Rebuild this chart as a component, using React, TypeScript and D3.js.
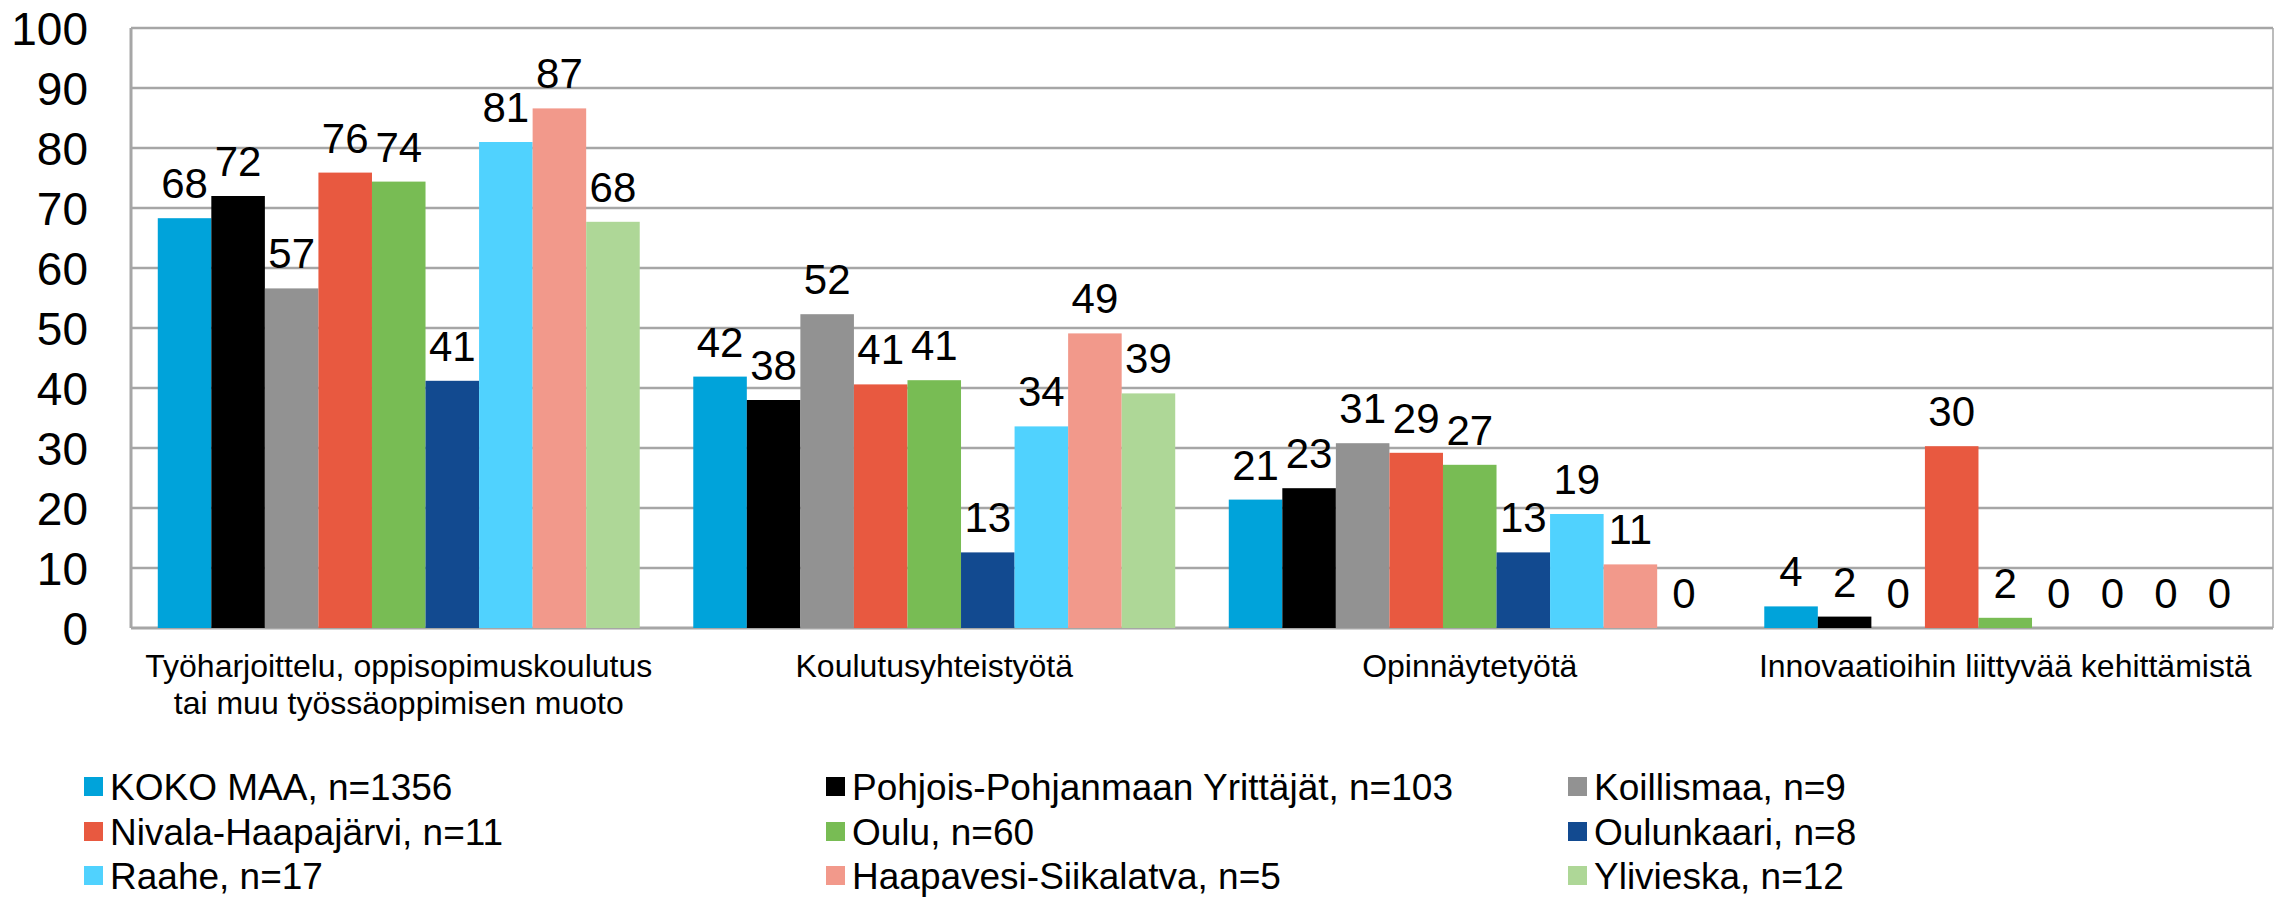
import React from 'react';
import * as d3 from 'd3';

// Kategoriat (x-akseli), rivitetty kuten alkuperäisessä
const categories = [
  'Työharjoittelu, oppisopimuskoulutus tai muu työssäoppimisen muoto',
  'Koulutusyhteistyötä',
  'Opinnäytetyötä',
  'Innovaatioihin liittyvää kehittämistä',
];
const categoryLines = [
  ['Työharjoittelu, oppisopimuskoulutus', 'tai muu työssäoppimisen muoto'],
  ['Koulutusyhteistyötä'],
  ['Opinnäytetyötä'],
  ['Innovaatioihin liittyvää kehittämistä'],
];

// Sarjat
const seriesNames = [
  'KOKO MAA, n=1356',
  'Pohjois-Pohjanmaan Yrittäjät, n=103',
  'Koillismaa, n=9',
  'Nivala-Haapajärvi, n=11',
  'Oulu, n=60',
  'Oulunkaari, n=8',
  'Raahe, n=17',
  'Haapavesi-Siikalatva, n=5',
  'Ylivieska, n=12',
];
const seriesColors = [
  '#00a3da', '#000000', '#929292', '#e85940', '#78bc54',
  '#124a90', '#50d2fe', '#f2998b', '#aed797',
];

// Arvot sarjoittain (kategorioiden järjestyksessä)
const kokoMaa = [68.3, 41.9, 21.4, 3.6];
const pohjoisPohjanmaa = [72.0, 38.0, 23.3, 1.9];
const koillismaa = [56.6, 52.3, 30.8, 0];
const nivalaHaapajarvi = [75.9, 40.6, 29.2, 30.3];
const oulu = [74.4, 41.3, 27.2, 1.7];
const oulunkaari = [41.2, 12.6, 12.6, 0];
const raahe = [81.0, 33.6, 19.0, 0];
const haapavesi = [86.6, 49.1, 10.6, 0];
const ylivieska = [67.7, 39.1, 0, 0];

const seriesValues = [
  kokoMaa, pohjoisPohjanmaa, koillismaa, nivalaHaapajarvi, oulu,
  oulunkaari, raahe, haapavesi, ylivieska,
];

const yTicks = [0, 10, 20, 30, 40, 50, 60, 70, 80, 90, 100];

const W = 2280;
const H = 898;
const plot = { left: 131, right: 2273, top: 28, bottom: 628 };
const font = '"Liberation Sans", Arial, sans-serif';
const gridColor = '#a6a6a6';

const App = () => {
  const x0 = d3.scaleBand<string>()
    .domain(categories)
    .range([plot.left, plot.right])
    .padding(0);

  const x1 = d3.scaleBand<string>()
    .domain(seriesNames)
    .range([0, x0.bandwidth()])
    .paddingInner(0)
    .paddingOuter(0.5);

  const y = d3.scaleLinear().domain([0, 100]).range([plot.bottom, plot.top]);

  const legendCols = [84, 826, 1568];
  const legendRows = [787, 832, 876];

  return (
    <svg width={W} height={H} style={{ position: 'absolute', left: 0, top: 0, background: '#fff' }}
      fontFamily={font}>
      <rect x={0} y={0} width={W} height={H} fill="#fff" />

      {/* Ruudukko */}
      {yTicks.map(t => (
        <line key={'g' + t} x1={plot.left} x2={plot.right} y1={y(t)} y2={y(t)}
          stroke={gridColor} strokeWidth={t === 0 ? 3 : 2.5} />
      ))}
      <line x1={plot.left} x2={plot.left} y1={plot.top} y2={plot.bottom}
        stroke={gridColor} strokeWidth={3} />
      <line x1={plot.right} x2={plot.right} y1={plot.top} y2={plot.bottom}
        stroke={gridColor} strokeWidth={1.5} />

      {/* Y-akselin tekstit */}
      {yTicks.map(t => (
        <text key={'t' + t} x={88} y={y(t)} dy="0.36em" textAnchor="end"
          fontSize={46} fill="#000">{t}</text>
      ))}

      {/* Pylväät */}
      {categories.map((c, ci) => (
        <g key={c} transform={`translate(${x0(c)},0)`}>
          {seriesNames.map((s, si) => {
            const v = seriesValues[si][ci];
            return (
              <rect key={s} x={x1(s)} y={y(v)} width={x1.bandwidth()}
                height={plot.bottom - y(v)} fill={seriesColors[si]} />
            );
          })}
        </g>
      ))}

      {/* Arvojen tekstit */}
      {categories.map((c, ci) => (
        <g key={'l' + c} transform={`translate(${x0(c)},0)`}>
          {seriesNames.map((s, si) => {
            const v = seriesValues[si][ci];
            return (
              <text key={s} x={(x1(s) ?? 0) + x1.bandwidth() / 2} y={y(v) - 20}
                textAnchor="middle" fontSize={42} fill="#000">{Math.round(v)}</text>
            );
          })}
        </g>
      ))}

      {/* Kategorioiden nimet */}
      {categories.map((c, ci) => (
        <text key={'c' + c} x={(x0(c) ?? 0) + x0.bandwidth() / 2} y={677}
          textAnchor="middle" fontSize={32} fill="#000">
          {categoryLines[ci].map((line, li) => (
            <tspan key={li} x={(x0(c) ?? 0) + x0.bandwidth() / 2} dy={li === 0 ? 0 : 37}>{line}</tspan>
          ))}
        </text>
      ))}

      {/* Selite */}
      {seriesNames.map((s, i) => {
        const cx = legendCols[i % 3];
        const cy = legendRows[Math.floor(i / 3)];
        return (
          <g key={'lg' + s}>
            <rect x={cx} y={cy - 10} width={19} height={19} fill={seriesColors[i]} />
            <text x={cx + 26} y={cy} dy="0.35em" fontSize={37} fill="#000">{s}</text>
          </g>
        );
      })}
    </svg>
  );
};

export default App;
